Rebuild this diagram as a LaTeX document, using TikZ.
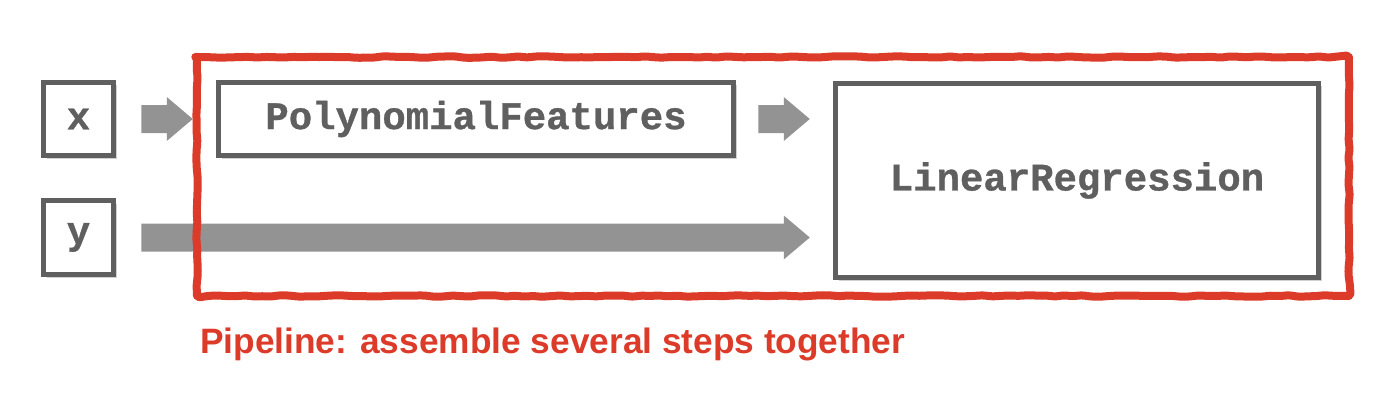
\documentclass[tikz,border=0pt]{standalone}
\usepackage{fontspec}
\setmainfont{Liberation Sans}
\newfontfamily\codefont[BoldFeatures={FakeBold=0.8}]{Liberation Mono}
\usetikzlibrary{shadows,decorations.pathmorphing,calc}
\definecolor{boxgray}{HTML}{5F5F5F}
\definecolor{arrowgray}{HTML}{939393}
\definecolor{pipered}{HTML}{DC3B2A}
\newcommand\blockarrow[2]{%
  \fill[arrowgray] let \p1=(#1), \p2=(#2) in
    (\x1,\y1+14pt) -- (\x2-26pt,\y1+14pt) -- (\x2-26pt,\y1+22pt) -- (\x2,\y1)
    -- (\x2-26pt,\y1-22pt) -- (\x2-26pt,\y1-14pt) -- (\x1,\y1-14pt) -- cycle;}
\begin{document}
\begin{tikzpicture}[x=1pt,y=-1pt,
  codebox/.style={draw=boxgray, line width=5.5pt, fill=white, rectangle,
    text=boxgray, font=\codefont\bfseries\fontsize{39}{39}\selectfont,
    drop shadow={opacity=0.3, fill=black!60, shadow xshift=3pt, shadow yshift=-3pt}},
  redframe/.style={draw=pipered, line width=8pt, line cap=round, line join=round,
    decorate, decoration={random steps, segment length=9pt, amplitude=0.8pt},
    rounded corners=3pt}]
\useasboundingbox (0,0) rectangle (1390,412);
\node[codebox, minimum width=70pt, minimum height=73pt] (x) at (78.5,119) {x};
\node[codebox, minimum width=70pt, minimum height=74pt] (y) at (78.5,237.5) {y};
\node[codebox, minimum width=515pt, minimum height=73pt] (poly) at (476,119) {PolynomialFeatures};
\node[codebox, minimum width=483pt, minimum height=194pt] (lr) at (1077,180.5) {LinearRegression};
\coordinate (a1s) at ($(x.east)+(25,0)$);
\coordinate (a1e) at ($(poly.west)+(-23,0)$);
\coordinate (a2s) at ($(poly.east)+(22,0)$);
\coordinate (a2e) at ($(poly.east -| lr.west)+(-23,0)$);
\coordinate (a3s) at ($(y.east)+(25,0)$);
\coordinate (a3e) at ($(y.east -| lr.west)+(-23,0)$);
\blockarrow{a1s}{a1e}
\blockarrow{a2s}{a2e}
\blockarrow{a3s}{a3e}
\draw[redframe] (197,57) rectangle (1349,296);
\node[anchor=base west, inner sep=0pt, text=pipered, font=\bfseries] (cap) at (200,353)
  {\resizebox{705pt}{!}{Pipeline: assemble several steps together}};
\end{tikzpicture}
\end{document}
